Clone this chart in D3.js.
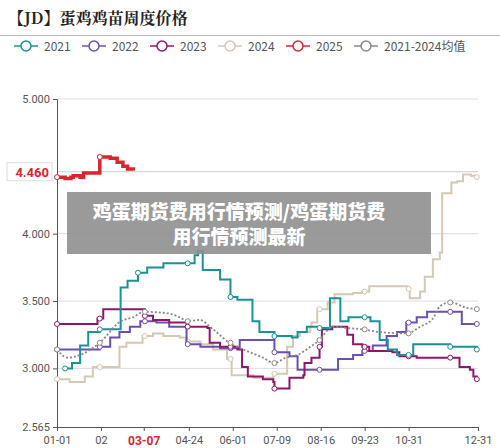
<!DOCTYPE html><html><head><meta charset="utf-8">
<script src="https://cdn.jsdelivr.net/npm/d3@7"></script>
<style>body{margin:0;background:#fff}svg{font-family:"Noto Sans CJK SC","Noto Sans",sans-serif}</style></head><body>
<svg id="c" width="500" height="448"></svg>
<script>
const seriesNames=["2021","2022","2023","2024","2025","2021-2024均值"];
const colors=["#1a9196","#6a4fb3","#8f1766","#d5c8b4","#d9262d","#888888"];
const d2021=[[7,3.00],[13,3.04],[20,3.17],[27,3.27],[37,3.29],[55,3.60],[61,3.65],[70,3.71],[78,3.75],[92,3.78],[113,3.78],[119,3.84],[122,3.87],[126,3.73],[141,3.66],[150,3.53],[156,3.51],[169,3.35],[175,3.27],[188,3.24],[203,3.23],[208,3.27],[216,3.31],[227,3.30],[236,3.52],[245,3.35],[252,3.38],[271,3.35],[279,3.21],[286,3.14],[294,3.10],[308,3.18],[340,3.16],[363,3.14]];
const d2022=[[0,3.14],[37,3.16],[46,3.23],[54,3.27],[63,3.31],[72,3.35],[86,3.34],[97,3.31],[112,3.18],[124,3.16],[141,3.15],[158,3.21],[188,3.12],[201,3.09],[208,2.99],[243,3.07],[256,3.10],[264,3.13],[273,3.17],[285,3.24],[294,3.27],[302,3.34],[311,3.38],[320,3.42],[350,3.33],[363,3.33]];
const d2023=[[0,3.33],[35,3.37],[40,3.44],[76,3.39],[83,3.36],[97,3.34],[112,3.31],[130,3.30],[132,3.19],[141,3.16],[156,3.14],[160,3.01],[165,2.94],[178,2.92],[187,2.90],[188,2.85],[201,2.93],[213,2.95],[214,3.04],[220,3.08],[227,3.16],[229,3.29],[238,3.31],[251,3.25],[256,3.18],[264,3.16],[270,3.13],[290,3.12],[296,3.09],[311,3.08],[348,3.01],[357,2.99],[360,2.94],[363,2.92]];
const d2024=[[0,2.92],[11,2.90],[24,2.94],[31,3.01],[54,3.16],[60,3.19],[74,3.24],[83,3.26],[92,3.24],[106,3.23],[112,3.20],[124,3.18],[135,3.14],[147,3.07],[151,2.95],[170,2.93],[187,2.96],[199,3.16],[204,3.24],[210,3.27],[219,3.31],[220,3.34],[225,3.44],[234,3.49],[240,3.55],[256,3.56],[264,3.57],[270,3.61],[303,3.59],[305,3.52],[314,3.57],[318,3.68],[325,3.81],[331,3.86],[333,4.30],[341,4.38],[346,4.39],[351,4.44],[358,4.43],[363,4.42]];
const d2025=[[0,4.42],[7,4.41],[12,4.42],[14,4.43],[20,4.42],[23,4.45],[35,4.45],[37,4.57],[46,4.56],[52,4.53],[57,4.50],[61,4.48],[66,4.47]];
const dAvg=[[0,3.14],[9,3.08],[20,3.10],[37,3.19],[55,3.35],[66,3.38],[75,3.42],[95,3.41],[106,3.38],[113,3.35],[123,3.36],[135,3.29],[149,3.19],[164,3.13],[178,3.08],[188,3.04],[198,3.08],[208,3.10],[219,3.16],[227,3.21],[238,3.31],[251,3.30],[264,3.29],[279,3.27],[303,3.26],[314,3.31],[325,3.37],[331,3.46],[340,3.49],[354,3.45],[363,3.44]];
const allData=[d2021,d2022,d2023,d2024,d2025,dAvg];
const markerDays=[[7,37,70,113,150,188,227,266,304,340,363],[0,37,76,113,150,188,227,266,304,340,363],[0,37,76,113,150,188,227,266,304,340,363],[0,37,76,113,150,188,227,266,304,363],[0,37],[0,37,76,113,150,188,227,266,304,340,363]];
const tickDays=[0,38,75,114,152,190,228,266,304,364];
const tickLabels=["01-01","02","03-07","04-24","06-01","07-09","08-16","09-23","10-31","12-31"];
const yTicks=[2.565,3.0,3.5,4.0,4.46,5.0];

const svg=d3.select("#c");
const x=d3.scaleLinear().domain([0,364]).range([57,478]);
const y=d3.scaleLinear().domain([2.565,5.0]).range([427,99]);

svg.append("text").attr("x",8).attr("y",24).attr("font-family","'Noto Serif CJK SC','Noto Sans CJK SC',serif").attr("font-weight","bold").attr("font-size",16).attr("fill","#222").text("【JD】蛋鸡鸡苗周度价格");
svg.append("line").attr("x1",0).attr("x2",500).attr("y1",35.5).attr("y2",35.5).attr("stroke","#bbb");

const lx=[14,82,150,218,286,354];
seriesNames.forEach((n,i)=>{
  const g=svg.append("g").attr("transform",`translate(${lx[i]},46)`);
  g.append("line").attr("x1",0).attr("x2",24).attr("stroke",colors[i]).attr("stroke-width",1.5);
  g.append("circle").attr("cx",12).attr("r",5).attr("fill","#fff").attr("stroke",colors[i]).attr("stroke-width",1.5);
  g.append("text").attr("x",30).attr("y",5).attr("font-size",12).attr("fill","#555").text(n);
});

yTicks.filter(v=>v!==2.565).forEach(v=>{
  svg.append("line").attr("x1",57).attr("x2",478).attr("y1",y(v)).attr("y2",y(v)).attr("stroke",v===4.46?"#ccc":"#ddd");
});
const ya=svg.append("g").attr("transform","translate(57,0)").call(d3.axisLeft(y).tickValues(yTicks.filter(v=>v!==4.46)).tickFormat(d3.format(".3f")).tickSize(4));
ya.select(".domain").attr("stroke","#555");
ya.selectAll("text").attr("font-size",11).attr("fill","#555").attr("font-family","Roboto,'Noto Sans',sans-serif");
ya.selectAll("line").attr("stroke","#555");
const xa=svg.append("g").attr("transform","translate(0,427)").call(d3.axisBottom(x).tickValues(tickDays).tickFormat((d,i)=>tickLabels[i]).tickSize(4));
xa.select(".domain").attr("stroke","#555");
xa.selectAll("line").attr("stroke","#555");
xa.selectAll("text").attr("font-size",11).attr("fill","#555").attr("dy","0.9em").attr("font-family","Roboto,'Noto Sans',sans-serif");
xa.selectAll("text").filter((d,i)=>i===2).attr("fill","#d9262d").attr("font-weight","bold").attr("font-size",12);

const line=d3.line().x(d=>x(d[0])).y(d=>y(d[1])).curve(d3.curveStepAfter);
const valAt=(data,day)=>{let v=data[0][1];for(const p of data){if(p[0]<=day)v=p[1];}return v;};
[3,1,2,0,5,4].forEach(i=>{
  const p=svg.append("path").datum(allData[i]).attr("d",i===5?d3.line().x(d=>x(d[0])).y(d=>y(d[1])).curve(d3.curveMonotoneX):line).attr("fill","none").attr("stroke",colors[i]).attr("stroke-width",i===4?3.5:2);
  if(i===5)p.attr("stroke-dasharray","2,2").attr("stroke-width",1.8);
  markerDays[i].forEach(dd=>{
    svg.append("circle").attr("cx",x(dd)).attr("cy",y(valAt(allData[i],dd))).attr("r",2.5).attr("fill","#fff").attr("stroke",colors[i]).attr("stroke-width",1);
  });
});

svg.append("rect").attr("x",7).attr("y",y(4.46)-9).attr("width",45).attr("height",18).attr("fill","#fff").attr("stroke","#ddd");
svg.append("text").attr("x",49).attr("y",y(4.46)+5).attr("text-anchor","end").attr("font-size",13).attr("font-weight","bold").attr("fill","#d9262d").attr("font-family","Roboto,sans-serif").text("4.460");

svg.append("rect").attr("x",67).attr("y",192).attr("width",364).attr("height",62).attr("fill","#8c8c8c").attr("opacity",0.88);
svg.append("text").attr("x",239).attr("y",219).attr("text-anchor","middle").attr("font-size",19).attr("font-weight","900").attr("fill","#fff").text("鸡蛋期货费用行情预测/鸡蛋期货费");
svg.append("text").attr("x",239).attr("y",244).attr("text-anchor","middle").attr("font-size",19).attr("font-weight","900").attr("fill","#fff").text("用行情预测最新");
</script></body></html>
